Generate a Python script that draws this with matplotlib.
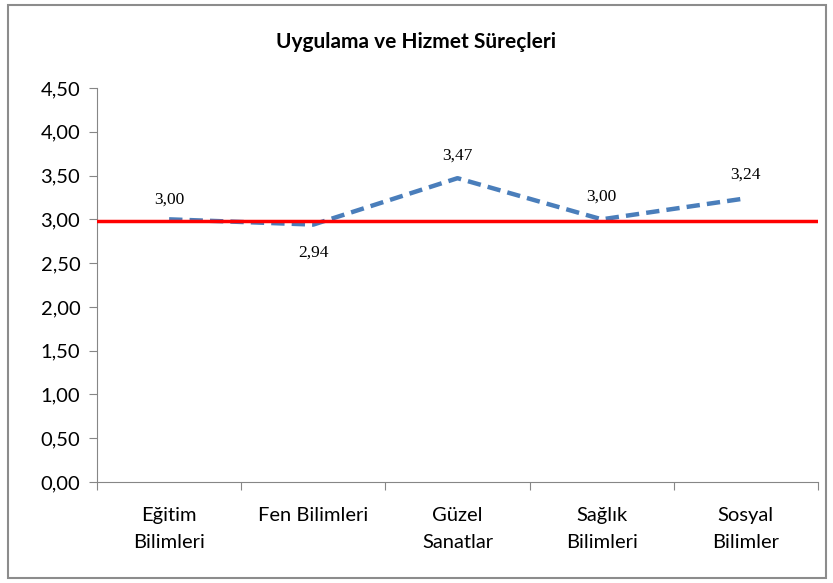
import matplotlib.pyplot as plt
import numpy as np
from matplotlib.patches import Rectangle

categories = ['Eğitim\nBilimleri', 'Fen Bilimleri', 'Güzel\nSanatlar', 'Sağlık\nBilimleri', 'Sosyal\nBilimler']
values = [3.00, 2.94, 3.47, 3.00, 3.24]
labels = ['3,00', '2,94', '3,47', '3,00', '3,24']
label_offsets = [14, -20, 16, 16, 17]
ref_value = 2.98
yticks = np.arange(0, 4.51, 0.5)

fig = plt.figure(figsize=(8.33, 5.83), dpi=100)
fig.patches.append(Rectangle((8 / 833, 5 / 583), 818 / 833, 573 / 583, transform=fig.transFigure,
                             fill=False, edgecolor='#8c8c8c', linewidth=1.5))
ax = fig.add_axes([97 / 833, 1 - 482 / 583, 721 / 833, 394 / 583])

x = np.arange(len(values))
ax.plot(x, values, linestyle=(0, (3, 1.6)), color='#4a7ebb', linewidth=3.2, zorder=3)
ax.axhline(ref_value, color='#ff0000', linewidth=2.5, zorder=4)
for xi, v, lab, off in zip(x, values, labels, label_offsets):
    ax.annotate(lab, (xi, v), xytext=(0, off), textcoords='offset points', ha='center', va='center',
                fontsize=12.5, family='Liberation Serif')

ax.set_xlim(-0.5, len(values) - 0.5)
ax.set_ylim(0, 4.5)
ax.set_yticks(yticks)
ax.set_yticklabels([('%.2f' % t).replace('.', ',') for t in yticks], fontsize=14.5, family='Lato')
ax.set_xticks(np.arange(-0.5, len(values), 1.0))
ax.set_xticklabels([])
ax.set_xticks(x, minor=True)
ax.set_xticklabels(categories, minor=True, fontsize=14.5, family='Lato', linespacing=1.75)
ax.tick_params(axis='x', which='minor', length=0, pad=18)
ax.tick_params(axis='x', which='major', length=6, color='#868686')
ax.tick_params(axis='y', length=6, color='#868686', pad=6)
for s in ['top', 'right']:
    ax.spines[s].set_visible(False)
for s in ['left', 'bottom']:
    ax.spines[s].set_color('#868686')

fig.text(0.5, 1 - 42 / 583, 'Uygulama ve Hizmet Süreçleri', ha='center', va='center',
         fontsize=15, fontweight='bold', family='Lato')

plt.savefig('out.png', dpi=100)
